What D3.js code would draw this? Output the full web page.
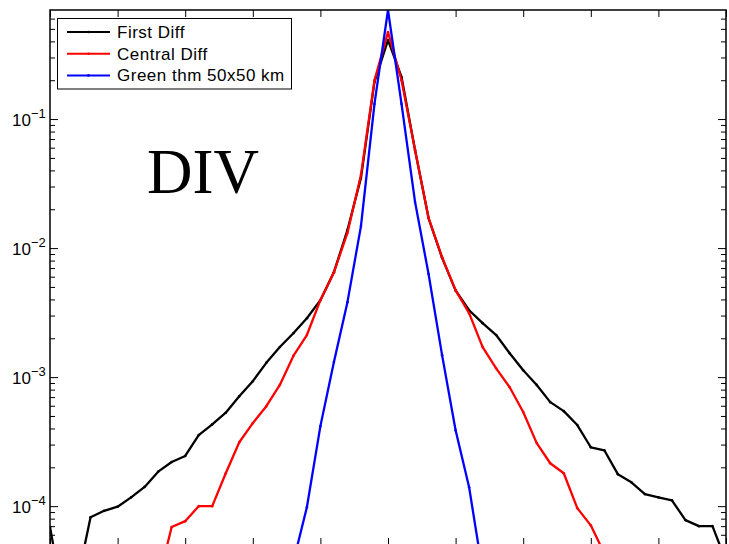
<!DOCTYPE html>
<html>
<head>
<meta charset="utf-8">
<script src="https://cdn.jsdelivr.net/npm/d3@7/dist/d3.min.js"></script>
<style>
  body { margin: 0; background: #fff; }
  text { font-family: "Liberation Sans", Arial, Helvetica, sans-serif; }
</style>
</head>
<body>
<script>
// bin centres (x axis) and the three distributions
let bins = [-5, -4.8, -4.6, -4.4, -4.2, -4, -3.8, -3.6, -3.4, -3.2,
  -3, -2.8, -2.6, -2.4, -2.2, -2, -1.8, -1.6, -1.4, -1.2,
  -1, -0.8, -0.6, -0.4, -0.2, 0, 0.2, 0.4, 0.6, 0.8,
  1, 1.2, 1.4, 1.6, 1.8, 2, 2.2, 2.4, 2.6, 2.8,
  3, 3.2, 3.4, 3.6, 3.8, 4, 4.2, 4.4, 4.6, 4.8, 5];

let firstDiff = [6.9e-5, 1.8e-5, 2.6e-5, 8.2e-5, 9.2e-5, 9.9e-5, 1.17e-4, 1.41e-4, 1.85e-4, 2.2e-4,
  2.45e-4, 3.55e-4, 4.3e-4, 5.3e-4, 7.1e-4, 9.3e-4, 1.29e-3, 1.71e-3, 2.19e-3, 2.86e-3,
  3.95e-3, 6.5e-3, 1.38e-2, 3.5e-2, 0.194, 0.409, 0.212, 5.75e-2, 1.71e-2, 8.4e-3,
  4.7e-3, 3.3e-3, 2.62e-3, 2.12e-3, 1.53e-3, 1.13e-3, 8.7e-4, 6.4e-4, 5.45e-4, 4.25e-4,
  2.86e-4, 2.71e-4, 1.77e-4, 1.53e-4, 1.24e-4, 1.17e-4, 1.11e-4, 7.8e-5, 7.0e-5, 7.0e-5, 3.75e-5];

let centralDiff = [null, null, null, null, null, null, null, null, 2.6e-5, 6.9e-5,
  7.65e-5, 1.0e-4, 1.0e-4, 1.8e-4, 3.13e-4, 4.4e-4, 5.95e-4, 8.7e-4, 1.46e-3, 2.12e-3,
  3.95e-3, 6.5e-3, 1.31e-2, 3.68e-2, 0.2, 0.472, 0.2, 5.75e-2, 1.71e-2, 8.5e-3,
  4.7e-3, 3.13e-3, 1.71e-3, 1.17e-3, 8.35e-4, 5.36e-4, 3.08e-4, 2.15e-4, 1.8e-4, 9.65e-5,
  7.1e-5, 4.3e-5, null, null, null, null, null, null, null, null, null];

let greenThm = [null, null, null, null, null, null, null, null, null, null,
  null, null, null, null, null, null, null, null, 3.7e-5, 9.8e-5,
  4.17e-4, 1.31e-3, 3.81e-3, 1.48e-2, 0.131, 0.7, 0.131, 2.28e-2, 6.3e-3, 1.48e-3,
  3.88e-4, 1.4e-4, 3.1e-5, null, null, null, null, null, null, null,
  null, null, null, null, null, null, null, null, null, null, null];

let seriesNames = ['First Diff', 'Central Diff', 'Green thm 50x50 km'];
let seriesColors = ['#000000', '#ff0000', '#0000ff'];
let xTicks = [-5, -4, -3, -2, -1, 0, 1, 2, 3, 4, 5];
let yMajor = [1e-4, 1e-3, 1e-2, 1e-1];
let yLabels = ['\u22124', '\u22123', '\u22122', '\u22121'];

let svg = d3.select('body')
  .append('svg')
  .attr('width', 729)
  .attr('height', 544);

let plotLeft = 50, plotRight = 726, plotTop = 10, plotBottom = 545;

let x = d3.scaleLinear().domain([-5, 5]).range([plotLeft, plotRight]);
let y = d3.scaleLog().domain([5e-5, 0.7]).range([plotBottom, plotTop]);

svg.append('clipPath').attr('id', 'plot')
  .append('rect')
  .attr('x', plotLeft).attr('y', plotTop)
  .attr('width', plotRight - plotLeft).attr('height', plotBottom - plotTop);

// minor + major log ticks
let yTicksAll = [];
for (let e = -5; e <= 0; e++) {
  for (let m = 1; m <= 9; m++) {
    let v = m * Math.pow(10, e);
    if (v >= 5e-5 && v <= 0.7) yTicksAll.push(v);
  }
}
let isMajor = v => yMajor.some(t => Math.abs(t - v) / t < 1e-6);

function styleTicks(g, sign) {
  g.select('.domain').remove();
  g.selectAll('.tick text').remove();
  g.selectAll('.tick line')
    .attr('x2', d => sign * (isMajor(d) ? 8 : 5))
    .attr('stroke', '#000')
    .attr('stroke-width', 1);
}

svg.append('g')
  .attr('transform', `translate(${plotLeft},0)`)
  .call(d3.axisLeft(y).tickValues(yTicksAll).tickFormat(''))
  .call(g => styleTicks(g, 1));

svg.append('g')
  .attr('transform', `translate(${plotRight},0)`)
  .call(d3.axisRight(y).tickValues(yTicksAll).tickFormat(''))
  .call(g => styleTicks(g, -1));

svg.append('g')
  .attr('transform', `translate(0,${plotTop})`)
  .call(d3.axisTop(x).tickValues(xTicks).tickSizeInner(-7).tickSizeOuter(0).tickFormat(''))
  .call(g => g.select('.domain').remove());

svg.append('g')
  .attr('transform', `translate(0,${plotBottom})`)
  .call(d3.axisBottom(x).tickValues(xTicks).tickSizeInner(-7).tickSizeOuter(0).tickFormat(''))
  .call(g => g.select('.domain').remove());

// y tick labels 10^n
let labels = svg.append('g').selectAll('text')
  .data(yMajor)
  .enter().append('text')
  .attr('x', 12)
  .attr('y', d => y(d) + 7)
  .attr('font-size', 17);
labels.append('tspan').text('10');
labels.append('tspan')
  .attr('dy', -8)
  .attr('font-size', 13)
  .text((d, i) => yLabels[i]);

// curves
let series = [firstDiff, centralDiff, greenThm];
let line = d3.line()
  .defined(d => d != null)
  .x((d, i) => x(bins[i]))
  .y(d => y(d));

let plot = svg.append('g').attr('clip-path', 'url(#plot)');

series.forEach((s, k) => {
  plot.append('path')
    .datum(s)
    .attr('fill', 'none')
    .attr('stroke', seriesColors[k])
    .attr('stroke-width', 2.3)
    .attr('stroke-linejoin', 'round')
    .attr('d', line);
  plot.selectAll('.dot' + k)
    .data(s.map((v, i) => ({ v, i })).filter(d => d.v != null))
    .enter().append('circle')
    .attr('cx', d => x(bins[d.i]))
    .attr('cy', d => y(d.v))
    .attr('r', 1.3)
    .attr('fill', seriesColors[k]);
});

// frame
svg.append('rect')
  .attr('x', plotLeft).attr('y', plotTop)
  .attr('width', plotRight - plotLeft).attr('height', plotBottom - plotTop)
  .attr('fill', 'none')
  .attr('stroke', '#000')
  .attr('stroke-width', 1.5);

// DIV label
svg.append('text')
  .attr('x', 147)
  .attr('y', 193)
  .style('font-family', '"Liberation Serif", "Times New Roman", serif')
  .attr('font-size', 63)
  .text('DIV');

// legend
let legend = svg.append('g');
legend.append('rect')
  .attr('x', 57.5).attr('y', 18.5)
  .attr('width', 234).attr('height', 70.5)
  .attr('fill', '#fff')
  .attr('stroke', '#000')
  .attr('stroke-width', 1);

seriesNames.forEach((name, k) => {
  let ly = 32 + k * 21.7;
  legend.append('line')
    .attr('x1', 67).attr('x2', 110)
    .attr('y1', ly).attr('y2', ly)
    .attr('stroke', seriesColors[k])
    .attr('stroke-width', 2);
  legend.append('circle')
    .attr('cx', 88.5).attr('cy', ly)
    .attr('r', 1.3)
    .attr('fill', seriesColors[k]);
  legend.append('text')
    .attr('x', 117)
    .attr('y', ly + 6)
    .attr('font-size', 17)
    .attr('letter-spacing', 0.5)
    .text(name);
});
</script>
</body>
</html>
